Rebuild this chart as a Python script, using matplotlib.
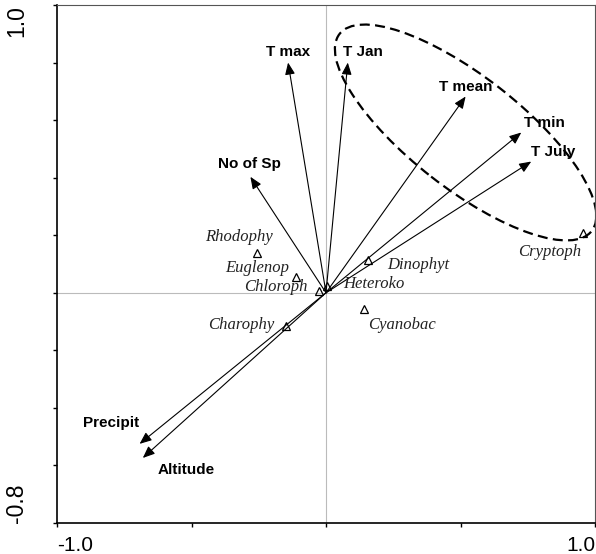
import numpy as np
import matplotlib
matplotlib.use("Agg")
import matplotlib.pyplot as plt
from matplotlib.patches import Ellipse
from matplotlib.transforms import ScaledTranslation

# environmental variables (arrow tips)
env_names = ["T max", "T Jan", "T mean", "T min", "T July", "No of Sp", "Precipit", "Altitude"]
env_x = [-0.141, 0.081, 0.519, 0.726, 0.763, -0.281, -0.693, -0.681]
env_y = [0.800, 0.800, 0.682, 0.557, 0.456, 0.403, -0.525, -0.574]

# algal groups (triangles)
sp_names = ["Rhodophy", "Euglenop", "Chloroph", "Heteroko", "Dinophyt", "Cyanobac", "Charophy", "Cryptoph"]
sp_x = [-0.256, -0.111, -0.026, 0.004, 0.156, 0.141, -0.148, 0.956]
sp_y = [0.139, 0.056, 0.007, 0.024, 0.115, -0.056, -0.115, 0.209]

xticks = [-1.0, -0.5, 0.0, 0.5, 1.0]
xticklabels = ["-1.0", "", "", "", "1.0"]
yticks = [-0.8, -0.6, -0.4, -0.2, 0.0, 0.2, 0.4, 0.6, 0.8, 1.0]
yticklabels = ["-0.8", "", "", "", "", "", "", "", "", "1.0"]

# label offsets in pixels (layout)
env_off = [(0, 11), (15, 11), (0, 10), (23, 9), (22, 10), (-1, 13), (-29, 21), (43, -12)]
sp_off = [(-18, 16), (-39, 9), (-43, 4), (47, 2), (50, -5), (38, -16), (-45, 1), (-34, -19)]

fig = plt.figure(figsize=(5.96, 5.54), dpi=100)
ax = fig.add_axes([57 / 596, 31 / 554, 538 / 596, 518 / 554])
ax.set_xlim(-1.0, 1.0)
ax.set_ylim(-0.8, 1.0)

ax.axhline(0, color="#bbbbbb", lw=0.8, zorder=0)
ax.axvline(0, color="#bbbbbb", lw=0.8, zorder=0)

for name, x, y, off in zip(env_names, env_x, env_y, env_off):
    ax.annotate("", xy=(x, y), xytext=(0, 0),
                arrowprops=dict(arrowstyle="-|>,head_length=0.6,head_width=0.25",
                                mutation_scale=12, shrinkA=0, shrinkB=0,
                                lw=0.8, color="black"))
    ax.annotate(name, xy=(x, y), xytext=off, textcoords="offset pixels",
                ha="center", va="center", fontsize=11, fontweight="bold",
                family="Liberation Sans")

ax.plot(sp_x, sp_y, "^", mfc="none", mec="black", ms=6, mew=0.9, ls="none")
for name, x, y, off in zip(sp_names, sp_x, sp_y, sp_off):
    ax.annotate(name, xy=(x, y), xytext=off, textcoords="offset pixels",
                ha="center", va="center", fontsize=12, style="italic",
                family="Liberation Serif", color="#222222")

# dashed ellipse around temperature group
tr = fig.dpi_scale_trans + ScaledTranslation(0.519, 0.557, ax.transData)
ell = Ellipse((0, 0), 3.2, 1.12, angle=-38, transform=tr, fill=False,
              ec="black", lw=1.6, ls=(0, (4.5, 2.4)), clip_on=False)
ax.add_patch(ell)

for s in ["left", "bottom"]:
    ax.spines[s].set_linewidth(1.2)
for s in ["top", "right"]:
    ax.spines[s].set_color("#555555")
    ax.spines[s].set_linewidth(0.8)

ax.set_xticks(xticks)
ax.set_xticklabels(xticklabels, family="Liberation Sans", fontsize=15)
ax.set_yticks(yticks)
ax.set_yticklabels(yticklabels, family="Liberation Sans", fontsize=16.5, rotation=90)
ax.tick_params(axis="x", direction="out", length=3, width=1, pad=6.5)
ax.tick_params(axis="y", direction="out", length=3, width=1, pad=18)
labs = ax.get_xticklabels()
labs[0].set_ha("left")
labs[-1].set_ha("right")
labs = ax.get_yticklabels()
labs[0].set_va("bottom")
labs[-1].set_va("top")

fig.savefig("out.png", dpi=100)
